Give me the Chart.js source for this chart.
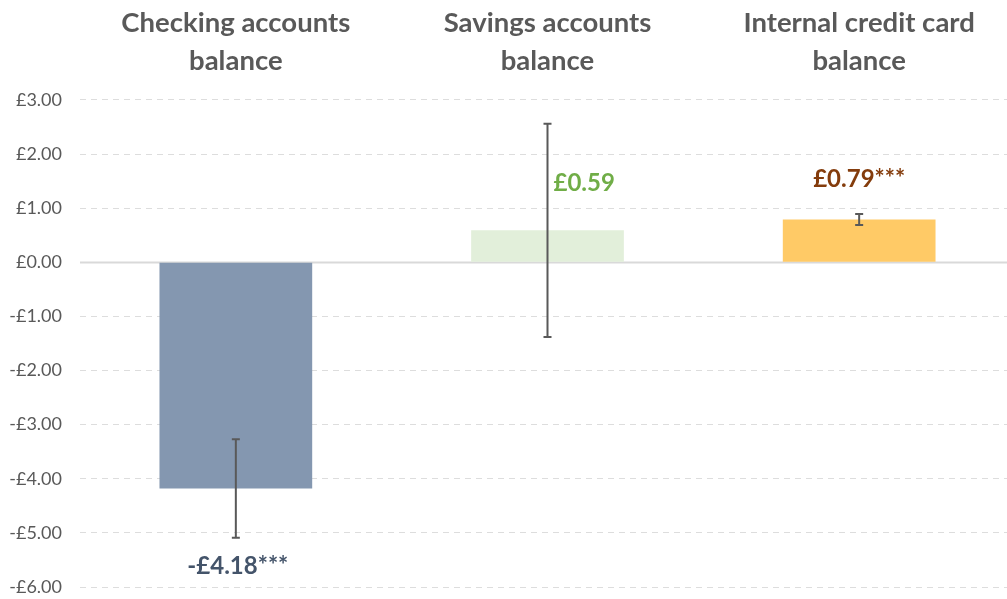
<!DOCTYPE html>
<html>
<head>
<meta charset="utf-8">
<script src="https://cdn.jsdelivr.net/npm/chart.js@4/dist/chart.umd.min.js"></script>
<style>
  html, body { margin: 0; padding: 0; background: #fff; overflow: hidden; }
  #wrap { width: 1007px; height: 599px; overflow: hidden; }
</style>
</head>
<body>
<div id="wrap"><canvas id="chart" width="1015" height="599"></canvas></div>
<script>
// dados
const categorias = [['Checking accounts', 'balance'], ['Savings accounts', 'balance'], ['Internal credit card', 'balance']];
const valores    = [-4.18, 0.59, 0.79];
const erros      = [0.91, 1.97, 0.10];
const rotulos    = ['-£4.18***', '£0.59', '£0.79***'];
const coresBarra = ['#8497B0', '#E2EFDA', '#FFCA66'];
const coresTexto = ['#44546A', '#70AD47', '#843C0C'];
const yTicks     = [3, 2, 1, 0, -1, -2, -3, -4, -5, -6];

const FONTE = 'Lato, "Open Sans", sans-serif';

const fmtLibra = v => (v < 0 ? '-£' : '£') + Math.abs(v).toFixed(2);

// linha do zero (sólida, por cima da grade tracejada)
const zeroLinePlugin = {
  id: 'zeroLine',
  beforeDatasetsDraw(chart) {
    const { ctx, chartArea } = chart;
    const y0 = Math.round(chart.scales.y.getPixelForValue(0)) + 0.5;
    ctx.save();
    ctx.fillStyle = '#fff';
    ctx.fillRect(chartArea.left, y0 - 1.5, chartArea.right - chartArea.left, 3);
    ctx.strokeStyle = '#D9D9D9';
    ctx.lineWidth = 2;
    ctx.beginPath();
    ctx.moveTo(chartArea.left, y0);
    ctx.lineTo(chartArea.right, y0);
    ctx.stroke();
    ctx.restore();
  }
};

// barras de erro + rótulos
const errorBarsPlugin = {
  id: 'errorBars',
  afterDatasetsDraw(chart) {
    const ctx = chart.ctx;
    const y = chart.scales.y;
    const meta = chart.getDatasetMeta(0);
    ctx.save();
    meta.data.forEach((bar, i) => {
      const x = bar.x;
      const yTop = y.getPixelForValue(valores[i] + erros[i]);
      const yBot = y.getPixelForValue(valores[i] - erros[i]);
      ctx.strokeStyle = '#595959';
      ctx.lineWidth = 2;
      ctx.beginPath();
      ctx.moveTo(x, yTop); ctx.lineTo(x, yBot);
      ctx.moveTo(x - 4, yTop); ctx.lineTo(x + 4, yTop);
      ctx.moveTo(x - 4, yBot); ctx.lineTo(x + 4, yBot);
      ctx.stroke();

      ctx.font = 'bold 24px ' + FONTE;
      ctx.fillStyle = coresTexto[i];
      ctx.textBaseline = 'middle';
      if (i === 0) {
        ctx.textAlign = 'center';
        ctx.fillText(rotulos[i], x + 2, yBot + 29);
      } else if (i === 1) {
        ctx.textAlign = 'left';
        ctx.fillText(rotulos[i], x + 6, y.getPixelForValue(valores[i]) - 47);
      } else {
        ctx.textAlign = 'center';
        ctx.fillText(rotulos[i], x, yTop - 35);
      }
    });
    ctx.restore();
  }
};

new Chart(document.getElementById('chart'), {
  type: 'bar',
  data: {
    labels: categorias,
    datasets: [{
      data: valores,
      backgroundColor: coresBarra,
      borderWidth: 0,
      barPercentage: 0.49,
      categoryPercentage: 1,
    }],
  },
  options: {
    responsive: false,
    animation: false,
    layout: { padding: { top: -8, right: 0, left: 0, bottom: 12 } },
    plugins: { legend: { display: false }, tooltip: { enabled: false } },
    scales: {
      x: {
        position: 'top',
        grid: { display: false },
        border: { display: false },
        ticks: {
          color: '#595959',
          font: { family: FONTE, size: 27.5, weight: 'bold', lineHeight: 1.38 },
          maxRotation: 0,
          padding: 12,
        },
      },
      y: {
        min: -6,
        max: 3,
        afterBuildTicks: s => { s.ticks = yTicks.map(v => ({ value: v })); },
        afterFit: s => { s.width = 80; s.paddingBottom = 0; },
        border: { display: false, dash: [6, 5] },
        grid: {
          color: '#DDDDDD',
          lineWidth: 1,
          drawTicks: false,
        },
        ticks: {
          color: '#595959',
          font: { family: FONTE, size: 18 },
          padding: 18,
          callback: v => fmtLibra(v),
        },
      },
    },
  },
  plugins: [zeroLinePlugin, errorBarsPlugin],
});
</script>
</body>
</html>
